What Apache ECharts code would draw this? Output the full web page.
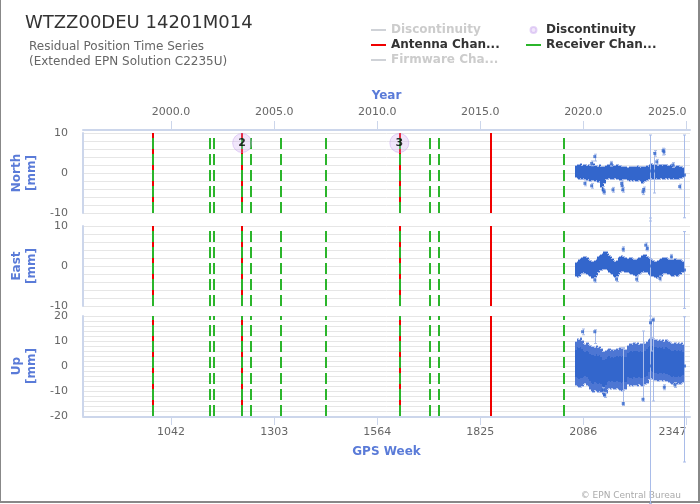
<!DOCTYPE html>
<html><head><meta charset="utf-8">
<script src="https://cdn.jsdelivr.net/npm/echarts@6/dist/echarts.min.js"></script>
<style>html,body{margin:0;padding:0;background:#fff}#c{width:700px;height:504px}</style>
</head><body><div id="c"></div><script>
// ---------- data ----------
const weekTicks = [1042, 1303, 1564, 1825, 2086, 2347];
const weekTickLabels = ['1042', '1303', '1564', '1825', '2086', '2347'];
const yearTickLabels = ['2000.0', '2005.0', '2010.0', '2015.0', '2020.0', '2025.0'];
const neGridValues = [-10, -8, -6, -4, -2, 0, 2, 4, 6, 8, 10];
const upGridValues = [-20, -18, -16, -14, -12, -10, -8, -6, -4, -2, 0, 2, 4, 6, 8, 10, 12, 14, 16, 18, 20];

const antennaWeeks = [995, 1222, 1620, 1852];
const receiverWeeks = [995, 1141, 1150, 1222, 1244, 1320, 1433, 1620, 1696, 1721, 2037];
const firmwareWeeks = [];
const discWeeks = [1222, 1620];
const discLabels = ['2', '3'];
const discMarkerValue = 7.5;

// legend labels as shown (truncated) in the reference
const legendLabels = {
  'Discontinuity lines': 'Discontinuity',
  'Discontinuity': 'Discontinuity',
  'Antenna Change': 'Antenna Chan...',
  'Receiver Change': 'Receiver Chan...',
  'Firmware Change': 'Firmware Cha...'
};

// residual envelope per 4-week bin (mm)
const binWeeks = [2068,2072,2076,2080,2084,2088,2092,2096,2100,2104,
  2108,2112,2116,2120,2124,2128,2132,2136,2140,2144,
  2148,2152,2156,2160,2164,2168,2172,2176,2180,2184,
  2188,2192,2196,2200,2204,2208,2212,2216,2220,2224,
  2228,2232,2236,2240,2244,2248,2252,2256,2260,2264,
  2268,2272,2276,2280,2284,2288,2292,2296,2300,2304,
  2308,2312,2316,2320,2324,2328,2332,2336,2340];
const northHi = [1.7,2.1,1.9,2.2,1.8,1.9,2.0,1.7,2.1,1.8,
  1.9,2.3,1.7,1.8,1.6,1.9,1.5,1.4,1.6,1.8,
  1.9,2.1,1.8,1.9,1.7,1.8,1.9,1.7,1.8,1.6,
  1.5,1.4,null,1.3,1.5,1.6,1.4,1.5,1.4,1.7,
  1.5,1.3,1.4,1.6,1.5,1.8,1.6,2.1,2.2,2.0,
  1.9,2.1,1.8,1.9,2.0,1.8,1.9,2.0,1.7,1.8,
  1.9,1.7,1.8,1.6,1.7,1.8,1.6,1.5,1.2];
const northLo = [-1.0,-1.3,-1.5,-1.2,-1.4,-1.3,-1.6,-1.8,-1.5,-1.9,
  -1.7,-1.8,-2.0,-1.8,-2.2,-2.0,-3.4,-4.5,-2.6,-1.6,
  -1.4,-1.3,-1.5,-1.4,-1.6,-1.3,-1.5,-1.4,-1.8,-1.7,
  -1.5,-1.4,null,-1.8,-1.9,-1.7,-2.0,-1.8,-1.9,-2.1,
  -1.8,-2.0,-2.4,-2.2,-1.9,-1.7,-1.6,-1.4,-1.3,-1.5,
  -1.4,-1.3,-1.5,-1.4,-1.3,-1.5,-1.4,-1.2,-1.4,-1.3,
  -1.5,-1.4,-1.3,-1.5,-1.4,-1.6,-1.3,-1.2,-1.0];
const eastHi = [0.8,1.1,1.4,1.8,2.1,2.3,2.2,2.0,1.6,1.2,
  1.0,1.1,1.3,1.6,2.2,2.6,2.8,3.0,3.4,3.6,
  3.1,2.5,2.2,1.8,1.2,1.0,1.3,1.9,2.3,2.4,
  2.2,1.9,null,1.7,1.9,2.0,1.8,1.6,1.6,1.8,
  1.9,2.1,2.6,2.8,2.7,2.3,1.9,1.7,1.4,1.2,
  1.0,1.1,1.2,1.4,1.7,1.9,2.0,1.9,1.7,1.5,
  1.4,1.6,1.5,1.7,1.5,1.4,1.6,1.3,1.0];
const eastLo = [-2.4,-2.7,-2.5,-2.0,-1.8,-1.6,-1.7,-1.9,-2.2,-2.6,
  -2.9,-3.1,-2.8,-2.3,-1.4,-1.1,-0.9,-0.8,-0.7,-0.8,
  -1.0,-1.4,-1.8,-2.1,-2.5,-2.7,-2.6,-2.0,-1.5,-1.2,
  -1.3,-1.5,null,-1.6,-1.8,-2.0,-1.9,-2.2,-2.4,-2.2,
  -2.0,-1.8,-1.5,-1.3,-1.4,-1.6,-2.0,-2.2,-2.4,-2.5,
  -2.7,-2.9,-2.8,-2.6,-2.4,-2.0,-1.8,-1.7,-1.9,-2.1,
  -2.3,-2.4,-2.5,-2.3,-2.4,-2.2,-2.0,-1.6,-1.4];
const upHi = [9.5,11.0,10.5,11.2,10.0,9.0,8.6,9.2,8.5,8.0,
  7.5,7.8,7.2,7.9,7.4,7.7,6.8,5.8,5.5,6.2,
  6.5,6.8,6.2,6.6,6.0,6.4,6.9,6.3,7.2,6.8,
  7.1,6.5,null,8.2,8.8,9.0,8.5,9.2,8.7,9.1,
  8.6,9.0,8.8,9.3,9.0,9.5,10.5,11.0,11.2,10.8,
  10.6,10.4,10.0,10.6,10.2,10.5,9.8,10.3,10.0,9.6,
  9.2,8.8,9.0,9.4,8.7,9.1,8.9,9.2,8.5];
const upLo = [-7.5,-8.0,-8.4,-8.2,-7.8,-7.2,-6.8,-7.4,-8.0,-9.0,
  -9.8,-10.3,-9.6,-10.1,-10.4,-9.9,-10.5,-11.2,-11.8,-10.8,
  -9.2,-8.8,-9.1,-8.6,-9.0,-9.3,-8.7,-9.0,-9.4,-9.8,
  -9.5,-9.2,null,-7.2,-7.8,-7.4,-7.9,-7.5,-7.7,-8.0,
  -7.3,-7.6,-7.9,-7.4,-7.2,-6.8,-5.3,-5.0,-4.8,-5.2,
  -5.4,-5.6,-5.9,-5.4,-5.7,-6.0,-5.5,-5.8,-6.1,-6.3,
  -6.8,-7.1,-6.9,-7.2,-7.0,-6.7,-7.3,-6.9,-6.5];

// individual points outside the envelope: [week, value, errLow, errHigh]
const northPts = [[2090,-2.6,-3.2,-2.0],[2107,2.4,1.8,3.0],[2107,-3.2,-3.8,-2.6],[2115,4.1,3.0,4.7],
  [2136,-4.2,-5.0,-3.4],[2139,-4.7,-5.3,-4.1],[2157,2.3,1.7,2.9],[2161,-4.2,-4.8,-3.6],
  [2183,-2.6,-3.2,-2.0],[2184,-3.2,-4.4,-2.5],[2186,-4.2,-4.8,-3.6],[2237,-4.7,-5.4,-4.0],
  [2239,-4.1,-4.7,-3.5],[2264,0.5,-5.0,5.1],[2267,4.9,4.2,5.6],[2272,2.8,2.2,3.4],
  [2288,5.6,4.5,6.2],[2290,5.3,4.6,6.0],[2313,2.0,1.4,2.6],[2330,-3.4,-4.0,-2.8],
  [2254,0.5,-12.0,9.5],[2342,-0.5,-11.2,9.5]];
const eastPts = [[2115,-3.5,-4.1,-2.9],[2170,-3.3,-3.9,-2.7],[2187,4.2,3.6,4.8],[2221,-3.3,-3.9,-2.7],
  [2244,5.2,4.0,5.8],[2248,4.4,3.8,5.0],[2280,-3.1,-3.7,-2.5],[2309,2.3,1.7,2.9],
  [2254,0.0,-13.5,12.0],[2342,-1.0,-10.6,8.6]];
const upPts = [[2084,13.7,12.5,14.8],[2115,13.7,9.0,14.5],[2136,-9.6,-10.5,-8.7],[2140,-11.6,-12.6,-10.6],
  [2187,-15.0,-15.8,7.0],[2237,-13.3,-14.2,14.0],[2256,17.3,6.0,18.5],[2263,18.4,-14.0,19.2],
  [2291,-8.5,-9.5,-7.5],[2318,-7.6,-8.6,-6.6],[2254,0.0,-55.0,20.0],[2342,0.0,-38.4,19.7]];

// ---------- chart ----------
const FONT = 'DejaVu Sans';
const AX = '#ccd6eb', BLUE = '#5a7bd8', LBL = '#666', GRIDC = '#e6e6e6';
const RED = '#f00000', GREEN = '#2bb52b', PT = '#3366cc', ERR = '#a9bce9';
const BIN_HALF = 2;
const X_MIN = 819, X_MAX = 2356;

const chart = echarts.init(document.getElementById('c'));

const xBase = { type: 'value', min: X_MIN, max: X_MAX, splitLine: { show: false } };
const axNameStyle = { color: BLUE, fontWeight: 'bold', fontSize: 12, fontFamily: FONT };

function yAx(i, name, min, max) {
  return {
    type: 'value', gridIndex: i, min, max, interval: 10,
    axisLine: { show: true, onZero: false, lineStyle: { color: AX, width: 2 } },
    axisTick: { show: false },
    axisLabel: { color: LBL, fontSize: 11, margin: 15, fontFamily: FONT },
    splitLine: { show: false },
    name, nameLocation: 'middle', nameRotate: 90, nameGap: 40,
    nameTextStyle: Object.assign({ lineHeight: 15 }, axNameStyle)
  };
}

// horizontal grid lines drawn through the y scale
function gridLineSeries(gi, values) {
  return {
    type: 'custom', xAxisIndex: gi, yAxisIndex: gi, silent: true, z: 0,
    data: values.map(v => [X_MIN, v]), encode: { x: 0, y: 1 },
    renderItem(params, api) {
      const cs = params.coordSys;
      const y = Math.round(api.coord([X_MIN, api.value(1)])[1]) + 0.5;
      return { type: 'line', shape: { x1: cs.x, y1: y, x2: cs.x + cs.width, y2: y }, style: { stroke: GRIDC, lineWidth: 1 } };
    }
  };
}

function eventSeries(name, weeks, color, lineType, legendType, gi) {
  return {
    name, type: 'line', xAxisIndex: gi, yAxisIndex: gi, data: [], symbol: 'none',
    lineStyle: { color, width: 2, type: legendType }, itemStyle: { color },
    markLine: {
      silent: true, symbol: 'none', animation: false, label: { show: false },
      lineStyle: { color, width: 2, type: lineType, opacity: 1 },
      emphasis: { disabled: true },
      data: weeks.map(w => ({ xAxis: w }))
    }
  };
}

function bandRows(lo, hi) {
  const r = [];
  binWeeks.forEach((w, i) => { if (lo[i] != null && hi[i] != null) r.push([w, lo[i], hi[i]]); });
  return r;
}
function bandSeries(gi, lo, hi, opt) {
  return {
    type: 'custom', xAxisIndex: gi, yAxisIndex: gi, silent: true, z: 2,
    data: bandRows(lo, hi), encode: { x: 0, y: [1, 2] },
    renderItem(params, api) {
      const w = api.value(0), l = api.value(1), h = api.value(2);
      const p1 = api.coord([w - BIN_HALF, h]), p2 = api.coord([w + BIN_HALF, l]);
      const x = Math.floor(p1[0]), wd = Math.ceil(p2[0]) - x;
      const y = Math.round(p1[1]), ht = Math.round(p2[1]) - y;
      const ch = [
        { type: 'rect', shape: { x, y: y - opt.fringe, width: wd, height: ht + 2 * opt.fringe }, style: { fill: opt.fringeColor } },
        { type: 'rect', shape: { x, y, width: wd, height: ht }, style: { fill: opt.outer } }
      ];
      if (opt.inner) {
        const m = Math.round(ht * opt.inner);
        ch.push({ type: 'rect', shape: { x, y: y + m, width: wd, height: ht - 2 * m }, style: { fill: opt.innerColor } });
      }
      return { type: 'group', children: ch };
    }
  };
}
function errSeries(gi, pts) {
  return {
    type: 'custom', xAxisIndex: gi, yAxisIndex: gi, silent: true, z: 3, clip: false,
    data: pts, encode: { x: 0, y: [1, 2, 3] },
    renderItem(params, api) {
      const w = api.value(0);
      const a = api.coord([w, api.value(3)]), b = api.coord([w, api.value(2)]);
      const x = Math.round(a[0]) + 0.5;
      const st = { stroke: ERR, lineWidth: 1 };
      return { type: 'group', children: [
        { type: 'line', shape: { x1: x, y1: a[1], x2: x, y2: b[1] }, style: st },
        { type: 'line', shape: { x1: x - 1.5, y1: a[1], x2: x + 1.5, y2: a[1] }, style: st },
        { type: 'line', shape: { x1: x - 1.5, y1: b[1], x2: x + 1.5, y2: b[1] }, style: st }
      ] };
    }
  };
}
function ptSeries(gi, pts) {
  return {
    type: 'scatter', xAxisIndex: gi, yAxisIndex: gi, silent: true, z: 4,
    symbol: 'rect', symbolSize: 3, itemStyle: { color: PT },
    data: pts.map(p => [p[0], p[1]])
  };
}

const series = [];
series.push(gridLineSeries(0, neGridValues), gridLineSeries(1, neGridValues), gridLineSeries(2, upGridValues));
series.push(eventSeries('Discontinuity lines', discWeeks, '#999999', 'solid', 'solid', 0));
for (let g = 0; g < 3; g++) series.push(eventSeries('Antenna Change', antennaWeeks, RED, 'solid', 'solid', g));
for (let g = 0; g < 3; g++) series.push(eventSeries('Receiver Change', receiverWeeks, GREEN, [11, 5], 'solid', g));
series.push(eventSeries('Firmware Change', firmwareWeeks, '#999999', [6, 3], [6, 3], 0));
const nbOpt = { fringe: 1, fringeColor: '#a6b9e8', outer: PT };
series.push(bandSeries(0, northLo, northHi, nbOpt));
series.push(bandSeries(1, eastLo, eastHi, nbOpt));
series.push(bandSeries(2, upLo, upHi, { fringe: 1, fringeColor: '#b5c5ee', outer: '#4d76d3', inner: 0.18, innerColor: '#3366cc' }));
series.push(errSeries(0, northPts), errSeries(1, eastPts), errSeries(2, upPts));
series.push(ptSeries(0, northPts), ptSeries(1, eastPts), ptSeries(2, upPts));
series.push({
  name: 'Discontinuity', type: 'scatter', xAxisIndex: 0, yAxisIndex: 0, z: 6, silent: true,
  symbol: 'circle', symbolSize: 19,
  itemStyle: { color: 'rgba(205,165,240,0.35)', borderColor: 'rgba(190,150,235,0.5)', borderWidth: 1 },
  label: { show: true, position: 'inside', formatter: p => p.value[2], color: '#000', fontWeight: 'bold', fontSize: 11, fontFamily: FONT },
  data: discWeeks.map((w, i) => [w, discMarkerValue, discLabels[i]])
});

const legendText = { fontWeight: 'bold', fontSize: 12, color: '#333', fontFamily: FONT };
const legendFmt = n => legendLabels[n] || n;
const hideSym = { opacity: 0 };

chart.setOption({
  animation: false,
  textStyle: { fontFamily: FONT },
  title: [
    { text: 'WTZZ00DEU 14201M014', left: 20, top: 9, textStyle: { fontSize: 18, fontWeight: 'normal', color: '#333', fontFamily: FONT } },
    { text: 'Residual Position Time Series\n(Extended EPN Solution C2235U)', left: 24, top: 34,
      textStyle: { fontSize: 12, fontWeight: 'normal', color: '#666', lineHeight: 15, fontFamily: FONT } }
  ],
  legend: [
    { left: 370, top: 24, padding: 0, orient: 'vertical', itemGap: 3, itemWidth: 15, itemHeight: 8,
      data: [
        { name: 'Discontinuity lines', itemStyle: hideSym },
        { name: 'Antenna Change', itemStyle: hideSym },
        { name: 'Firmware Change', itemStyle: hideSym }
      ], formatter: legendFmt,
      textStyle: legendText, inactiveColor: '#cccccc',
      selected: { 'Discontinuity lines': false, 'Firmware Change': false } },
    { left: 525, top: 24, padding: 0, orient: 'vertical', itemGap: 3, itemWidth: 15, itemHeight: 6,
      data: [
        { name: 'Discontinuity' },
        { name: 'Receiver Change', itemStyle: hideSym }
      ], formatter: legendFmt,
      textStyle: legendText, inactiveColor: '#cccccc' }
  ],
  grid: [
    { left: 83, top: 133, width: 607, height: 80 },
    { left: 83, top: 226, width: 607, height: 80 },
    { left: 83, top: 316, width: 607, height: 100 }
  ],
  xAxis: [
    Object.assign({}, xBase, {
      gridIndex: 0, position: 'top', offset: 3,
      axisLine: { show: true, onZero: false, lineStyle: { color: AX, width: 2 } },
      axisTick: { show: true, customValues: weekTicks, length: 9, lineStyle: { color: AX } },
      axisLabel: { customValues: weekTicks, formatter: v => yearTickLabels[weekTicks.indexOf(v)],
        color: LBL, fontSize: 11, margin: 12, fontFamily: FONT, alignMaxLabel: 'right' },
      name: 'Year', nameLocation: 'middle', nameGap: 28, nameTextStyle: axNameStyle
    }),
    Object.assign({}, xBase, { gridIndex: 1, show: false, axisLine: { onZero: false } }),
    Object.assign({}, xBase, {
      gridIndex: 2, position: 'bottom', offset: 1,
      axisLine: { show: true, onZero: false, lineStyle: { color: AX, width: 2 } },
      axisTick: { show: true, customValues: weekTicks, length: 8, lineStyle: { color: AX } },
      axisLabel: { customValues: weekTicks, formatter: v => weekTickLabels[weekTicks.indexOf(v)],
        color: LBL, fontSize: 11, margin: 10, fontFamily: FONT, alignMaxLabel: 'right' },
      name: 'GPS Week', nameLocation: 'middle', nameGap: 29, nameTextStyle: axNameStyle
    })
  ],
  yAxis: [yAx(0, 'North\n[mm]', -10, 10), yAx(1, 'East\n[mm]', -10, 10), yAx(2, 'Up\n[mm]', -20, 20)],
  graphic: [
    { type: 'rect', silent: true, shape: { x: 0, y: -5, width: 699, height: 507 }, style: { fill: 'none', stroke: '#888', lineWidth: 2 } },
    { type: 'text', right: 19, bottom: 4, silent: true, style: { text: '\u00a9 EPN Central Bureau', font: '9px "DejaVu Sans"', fill: '#aaa' } }
  ],
  series
});
</script></body></html>
